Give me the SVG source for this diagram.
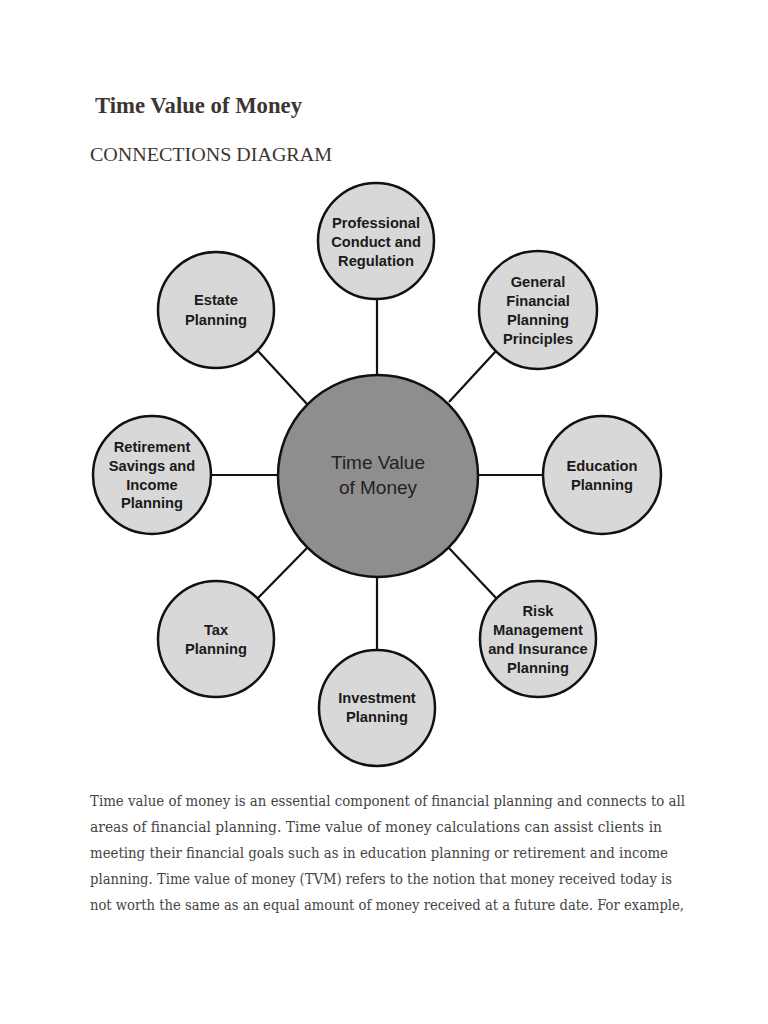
<svg xmlns="http://www.w3.org/2000/svg" width="768" height="1024" viewBox="0 0 768 1024">
<style>
.node{fill:#d8d8d8;stroke:#111;stroke-width:2.5}
.hub{fill:#8e8e8e;stroke:#111;stroke-width:2.5}
.lbl{font-family:"Liberation Sans",Arial,sans-serif;font-weight:bold;font-size:14.7px;fill:#1a1a1a;text-anchor:middle}
.hubt{font-family:"Liberation Sans",Arial,sans-serif;font-size:19px;fill:#222;text-anchor:middle}
.conn{stroke:#111;stroke-width:2.2;fill:none}
.para{font-family:"DejaVu Serif",serif;font-size:14px;fill:#444}
</style>
<rect width="768" height="1024" fill="#fff"/>
<text x="95" y="113" font-family="Liberation Serif,serif" font-weight="bold" font-size="22.5" fill="#3d3530" textLength="207" lengthAdjust="spacingAndGlyphs">Time Value of Money</text>
<text x="90" y="161" font-family="Liberation Serif,serif" font-size="19.5" fill="#3d3530" textLength="242" lengthAdjust="spacingAndGlyphs">CONNECTIONS DIAGRAM</text>
<g id="connectors">
<line class="conn" x1="377" y1="299" x2="377" y2="376"/>
<line class="conn" x1="377" y1="576" x2="377" y2="650"/>
<line class="conn" x1="211" y1="475" x2="278" y2="475"/>
<line class="conn" x1="478" y1="475" x2="543" y2="475"/>
<line class="conn" x1="258" y1="351" x2="307" y2="404"/>
<line class="conn" x1="496" y1="351" x2="449" y2="402"/>
<line class="conn" x1="258" y1="598" x2="307" y2="548"/>
<line class="conn" x1="496" y1="598" x2="449" y2="548"/>
</g>
<g id="hub"><ellipse class="hub" cx="378" cy="476" rx="100" ry="101"/>
<text class="hubt" x="378" y="469">Time Value</text><text class="hubt" x="378" y="494">of Money</text></g>
<g id="professional"><circle class="node" cx="376" cy="241" r="58"/>
<text class="lbl" x="376" y="228">Professional</text><text class="lbl" x="376" y="247">Conduct and</text><text class="lbl" x="376" y="266">Regulation</text></g>
<g id="estate"><circle class="node" cx="216" cy="310" r="58"/>
<text class="lbl" x="216" y="305">Estate</text><text class="lbl" x="216" y="325">Planning</text></g>
<g id="general"><circle class="node" cx="538" cy="310" r="59"/>
<text class="lbl" x="538" y="287">General</text><text class="lbl" x="538" y="306">Financial</text><text class="lbl" x="538" y="325">Planning</text><text class="lbl" x="538" y="344">Principles</text></g>
<g id="retirement"><circle class="node" cx="152" cy="475" r="59"/>
<text class="lbl" x="152" y="452">Retirement</text><text class="lbl" x="152" y="471">Savings and</text><text class="lbl" x="152" y="490">Income</text><text class="lbl" x="152" y="508">Planning</text></g>
<g id="education"><circle class="node" cx="602" cy="475" r="59"/>
<text class="lbl" x="602" y="471">Education</text><text class="lbl" x="602" y="490">Planning</text></g>
<g id="tax"><circle class="node" cx="216" cy="639" r="58"/>
<text class="lbl" x="216" y="635">Tax</text><text class="lbl" x="216" y="654">Planning</text></g>
<g id="risk"><circle class="node" cx="538" cy="639" r="58"/>
<text class="lbl" x="538" y="616">Risk</text><text class="lbl" x="538" y="635">Management</text><text class="lbl" x="538" y="654">and Insurance</text><text class="lbl" x="538" y="673">Planning</text></g>
<g id="investment"><circle class="node" cx="377" cy="708" r="58"/>
<text class="lbl" x="377" y="703">Investment</text><text class="lbl" x="377" y="722">Planning</text></g>
<g id="paragraph">
<text class="para" x="90" y="806" textLength="595" lengthAdjust="spacingAndGlyphs">Time value of money is an essential component of financial planning and connects to all</text>
<text class="para" x="90" y="832" textLength="572" lengthAdjust="spacingAndGlyphs">areas of financial planning. Time value of money calculations can assist clients in</text>
<text class="para" x="90" y="858" textLength="578" lengthAdjust="spacingAndGlyphs">meeting their financial goals such as in education planning or retirement and income</text>
<text class="para" x="90" y="884" textLength="582" lengthAdjust="spacingAndGlyphs">planning. Time value of money (TVM) refers to the notion that money received today is</text>
<text class="para" x="90" y="910" textLength="594" lengthAdjust="spacingAndGlyphs">not worth the same as an equal amount of money received at a future date. For example,</text>
</g>
</svg>
